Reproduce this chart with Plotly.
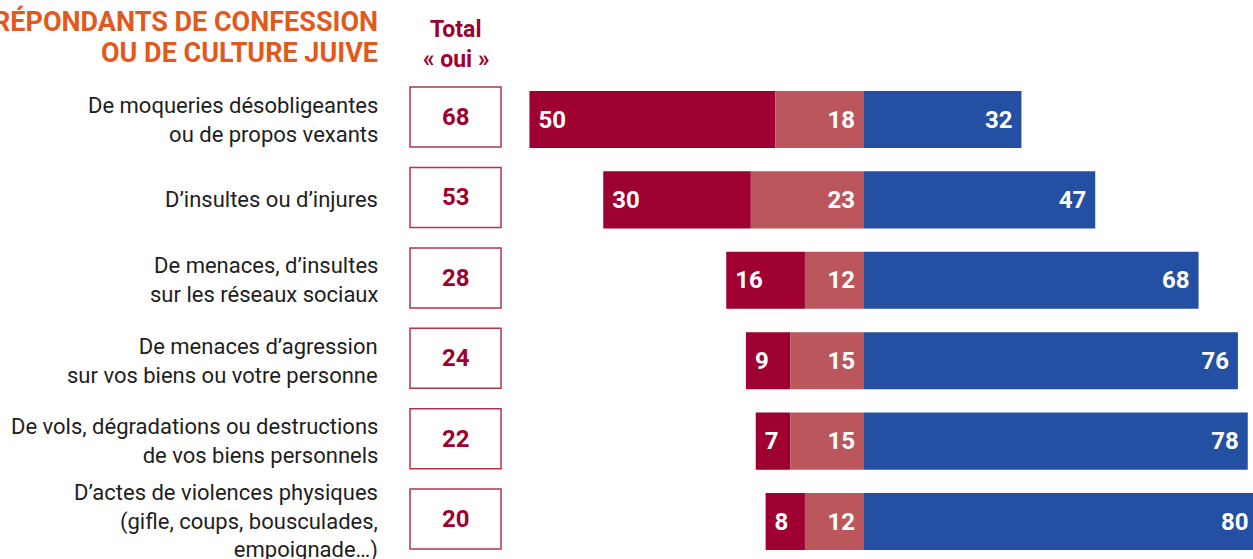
import plotly.graph_objects as go

categories = [
    "De moqueries désobligeantes<br>ou de propos vexants",
    "D’insultes ou d’injures",
    "De menaces, d’insultes<br>sur les réseaux sociaux",
    "De menaces d’agression<br>sur vos biens ou votre personne",
    "De vols, dégradations ou destructions<br>de vos biens personnels",
    "D’actes de violences physiques<br>(gifle, coups, bousculades,<br>empoignade…)",
]
total_oui = [68, 53, 28, 24, 22, 20]
dark_vals = [50, 30, 16, 9, 7, 8]
light_vals = [18, 23, 12, 15, 15, 12]
blue_vals = [32, 47, 68, 76, 78, 80]

title_lines = ["RÉPONDANTS DE CONFESSION", "OU DE CULTURE JUIVE"]
header_lines = ["Total", "« oui »"]

DARK = "#9e0031"
LIGHT = "#ba565c"
BLUE = "#2450a4"
ORANGE = "#e05a1e"
FONT = "Roboto, Arial, sans-serif"
NB = "\u00a0"

W, H = 1253, 559
center_px = 864
px_per_unit = 4.92
x0 = -center_px / px_per_unit
x1 = (W - center_px) / px_per_unit
row0_px, pitch = 119.5, 80.4
y_top = -row0_px / pitch
y_bot = (H - row0_px) / pitch

ys = list(range(len(categories)))

fig = go.Figure()
fig.add_trace(go.Bar(
    y=ys, x=[-v for v in dark_vals], base=[-v for v in light_vals], orientation="h",
    marker=dict(color=DARK, line=dict(width=0)),
    text=[NB + str(v) for v in dark_vals], textposition="inside", insidetextanchor="end",
    textfont=dict(family=FONT, size=24, color="white", weight="bold"),
    constraintext="none", hoverinfo="skip",
))
fig.add_trace(go.Bar(
    y=ys, x=[-v for v in light_vals], base=[0] * len(ys), orientation="h",
    marker=dict(color=LIGHT, line=dict(width=0)),
    text=[str(v) + NB for v in light_vals], textposition="inside", insidetextanchor="start",
    textfont=dict(family=FONT, size=24, color="white", weight="bold"),
    constraintext="none", hoverinfo="skip",
))
fig.add_trace(go.Bar(
    y=ys, x=blue_vals, base=[0] * len(ys), orientation="h",
    marker=dict(color=BLUE, line=dict(width=0)),
    text=[str(v) + NB for v in blue_vals], textposition="inside", insidetextanchor="end",
    textfont=dict(family=FONT, size=24, color="white", weight="bold"),
    constraintext="none", hoverinfo="skip",
))

annotations = []
shapes = []
label_x = 380 / W
box_l, box_r = 410 / W, 501 / W
box_half = 30 / pitch
for i, (cat, tot) in enumerate(zip(categories, total_oui)):
    annotations.append(dict(
        x=label_x, xref="paper", y=i, yref="y", text=cat, showarrow=False,
        xanchor="right", yanchor="middle", align="right",
        font=dict(family=FONT, size=22, color="#1e1e1e"),
    ))
    shapes.append(dict(
        type="rect", xref="paper", yref="y", x0=box_l, x1=box_r,
        y0=i - box_half - 0.03, y1=i + box_half - 0.03,
        line=dict(color="#b3334d", width=1.5), fillcolor="white",
    ))
    annotations.append(dict(
        x=(box_l + box_r) / 2, xref="paper", y=i - 0.03, yref="y", text=f"<b>{tot}</b>",
        showarrow=False, xanchor="center", yanchor="middle",
        font=dict(family=FONT, size=24, color=DARK),
    ))

for j, (line, ypx) in enumerate(zip(title_lines, [21, 53])):
    annotations.append(dict(
        x=label_x, xref="paper", y=1 - ypx / H, yref="paper", text=f"<b>{line}</b>",
        showarrow=False, xanchor="right", yanchor="middle",
        font=dict(family=FONT, size=27, color=ORANGE),
    ))
for j, (line, ypx) in enumerate(zip(header_lines, [29, 59])):
    annotations.append(dict(
        x=(box_l + box_r) / 2, xref="paper", y=1 - ypx / H, yref="paper", text=f"<b>{line}</b>",
        showarrow=False, xanchor="center", yanchor="middle",
        font=dict(family=FONT, size=23, color=DARK),
    ))

fig.update_layout(
    width=W, height=H, margin=dict(l=0, r=0, t=0, b=0),
    paper_bgcolor="white", plot_bgcolor="white",
    barmode="overlay", bargap=0.29, showlegend=False,
    xaxis=dict(range=[x0, x1], visible=False, fixedrange=True),
    yaxis=dict(range=[y_bot, y_top], visible=False, fixedrange=True),
    annotations=annotations, shapes=shapes,
)
fig.write_html(
    "out.html",
    config={"displayModeBar": False},
    post_script="document.body.style.margin='0';document.body.style.overflow='hidden';",
)
